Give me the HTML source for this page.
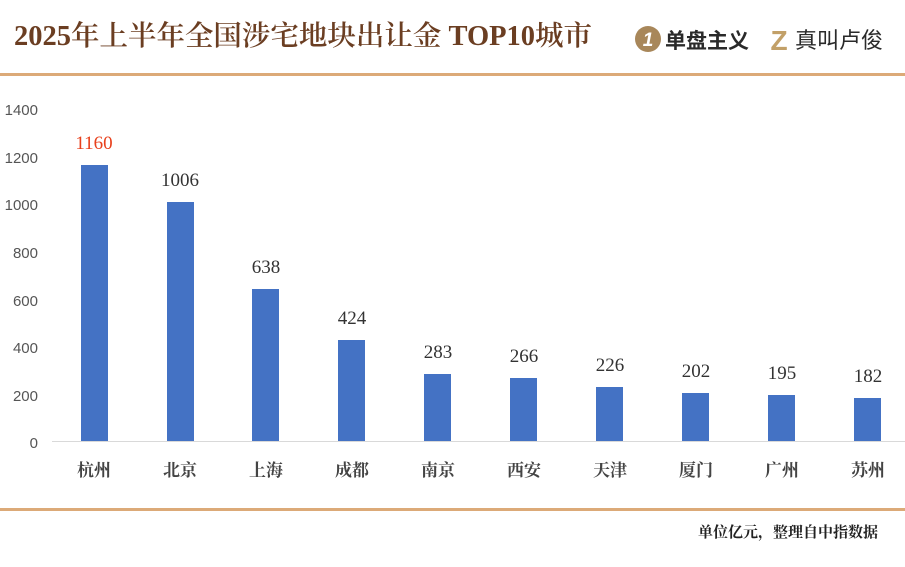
<!DOCTYPE html>
<html><head><meta charset="utf-8"><style>
body{margin:0;width:905px;height:562px;overflow:hidden;background:#fff;font-family:"Liberation Serif","Noto Serif CJK SC",serif;}
</style></head><body>
<svg width="905" height="562" xmlns="http://www.w3.org/2000/svg">
<rect width="905" height="562" fill="#fff"/>
<text x="14" y="45" font-size="28" font-weight="600" fill="#6b3e22" textLength="578" lengthAdjust="spacingAndGlyphs" font-family="Liberation Serif,Noto Serif CJK SC,serif">2025年上半年全国涉宅地块出让金 TOP10城市</text>
<circle cx="648" cy="39" r="13" fill="#a8875a"/>
<text x="648" y="46" font-size="19" fill="#fff" text-anchor="middle" font-family="Liberation Sans,sans-serif" font-weight="bold" font-style="italic">1</text>
<text x="665" y="48" font-size="21" fill="#2a2a2a" font-weight="bold" font-family="Noto Sans CJK SC,sans-serif">单盘主义</text>
<text x="779" y="50" font-size="28" fill="#c2a068" font-weight="bold" text-anchor="middle" font-family="Liberation Sans,sans-serif">Z</text>
<text x="795" y="48" font-size="22" fill="#2a2a2a" font-family="Noto Sans CJK SC,sans-serif">真叫卢俊</text>
<rect x="0" y="73" width="905" height="3" fill="#dcaa78"/>
<rect x="0" y="508" width="905" height="3" fill="#dcaa78"/>
<g font-family="Liberation Sans,sans-serif" font-size="15" fill="#555" text-anchor="end">
<text x="38" y="115">1400</text><text x="38" y="163">1200</text><text x="38" y="210">1000</text>
<text x="38" y="258">800</text><text x="38" y="306">600</text><text x="38" y="353">400</text>
<text x="38" y="401">200</text><text x="38" y="448">0</text>
</g>
<line x1="52" y1="441.5" x2="905" y2="441.5" stroke="#d9d9d9"/>
<g fill="#4472c4">
<rect x="81" y="165" width="27" height="276"/>
<rect x="167" y="202" width="27" height="239"/>
<rect x="252" y="289" width="27" height="152"/>
<rect x="338" y="340" width="27" height="101"/>
<rect x="424" y="374" width="27" height="67"/>
<rect x="510" y="378" width="27" height="63"/>
<rect x="596" y="387" width="27" height="54"/>
<rect x="682" y="393" width="27" height="48"/>
<rect x="768" y="395" width="27" height="46"/>
<rect x="854" y="398" width="27" height="43"/>
</g>
<g font-size="19" fill="#333" text-anchor="middle">
<text x="94" y="149" fill="#e8401c">1160</text>
<text x="180" y="186">1006</text>
<text x="266" y="273">638</text>
<text x="352" y="324">424</text>
<text x="438" y="358">283</text>
<text x="524" y="362">266</text>
<text x="610" y="371">226</text>
<text x="696" y="377">202</text>
<text x="782" y="379">195</text>
<text x="868" y="382">182</text>
</g>
<g font-size="17" fill="#444" text-anchor="middle" font-weight="bold">
<text x="94" y="476">杭州</text><text x="180" y="476">北京</text><text x="266" y="476">上海</text>
<text x="352" y="476">成都</text><text x="438" y="476">南京</text><text x="524" y="476">西安</text>
<text x="610" y="476">天津</text><text x="696" y="476">厦门</text><text x="782" y="476">广州</text>
<text x="868" y="476">苏州</text>
</g>
<text x="878" y="537" font-size="15" fill="#222" font-weight="bold" text-anchor="end">单位亿元，整理自中指数据</text>
</svg>
</body></html>
